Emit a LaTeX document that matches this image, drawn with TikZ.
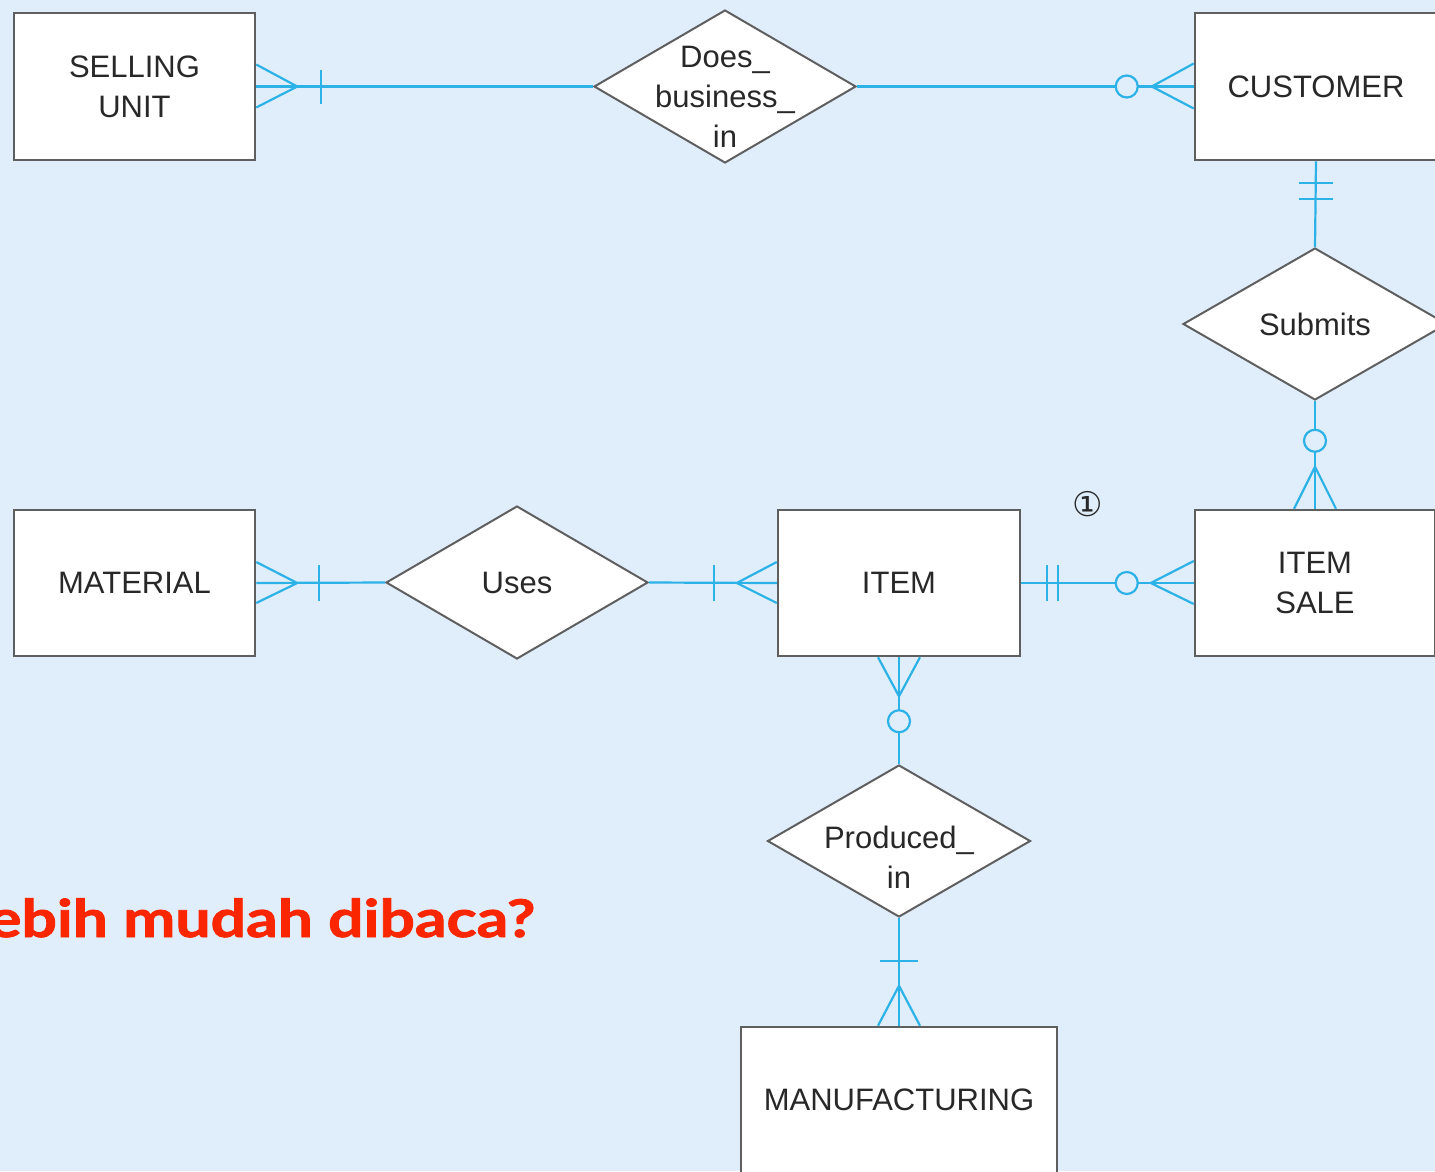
\documentclass[tikz,border=0pt]{standalone}
\usepackage{fontspec}
\setmainfont{Liberation Sans}
\newfontfamily\symfont{DejaVu Sans}
\newfontfamily\redfont{Lato}[BoldFeatures={FakeBold=1.5}]
\usetikzlibrary{shapes.geometric,calc}
\definecolor{bg}{RGB}{224,238,252}
\definecolor{relc}{RGB}{45,178,232}
\definecolor{bord}{RGB}{95,95,95}
\definecolor{txt}{RGB}{40,40,40}
\definecolor{redtxt}{RGB}{250,38,0}
\begin{document}
\begin{tikzpicture}[x=1pt,y=-1pt,
 entity/.style={draw=bord, line width=2.5pt, fill=white, rectangle, inner sep=0pt, align=center, text=txt, font=\fontsize{31}{40}\selectfont},
 relship/.style={draw=bord, line width=2pt, fill=white, diamond, inner sep=0pt},
 rtext/.style={align=center, text=txt, inner sep=0pt, font=\fontsize{31}{40}\selectfont},
 rel/.style={draw=relc, line width=2.2pt},
 optc/.style={draw=relc, line width=2.2pt, fill=bg},
]
\fill[bg] (0,0) rectangle (1435,1171);
\useasboundingbox (0,0) rectangle (1435,1171);

% entities
\node[entity, minimum width=241, minimum height=147] (su) at (134.5,86.5) {SELLING\\UNIT};
\node[entity, minimum width=242, minimum height=147] (cu) at (1316,86.5) {CUSTOMER};
\node[entity, minimum width=241, minimum height=146] (mat) at (134.5,583) {MATERIAL};
\node[entity, minimum width=242, minimum height=146] (item) at (899,583) {ITEM};
\node[entity, minimum width=240, minimum height=146] (is) at (1315,583) {ITEM\\SALE};
\node[entity, minimum width=316, minimum height=146] (mf) at (899,1100) {MANUFACTURING};

% relationships
\node[relship, minimum width=262, minimum height=153] (dbi) at (725,86.5) {};
\node[rtext] (dbit) at (725,97) {Does\_\\business\_\\in};
\node[relship, minimum width=264, minimum height=152] (sub) at (1315,324) {};
\node[rtext] (subt) at (1315,324) {Submits};
\node[relship, minimum width=262, minimum height=153] (uses) at (517,582.5) {};
\node[rtext] (usest) at (517,583) {Uses};
\node[relship, minimum width=263, minimum height=152] (pin) at (899,841) {};
\node[rtext] (pint) at (899,857) {Produced\_\\in};

% SELLING UNIT -- Does_business_in -- CUSTOMER
\draw[rel] (su.east) -- (dbi.west);
\draw[rel] ($(su.east)+(0,-22)$) -- ($(su.east)+(41,0)$) -- ($(su.east)+(0,21)$);
\draw[rel] ($(su.east)+(65,-17)$) -- ($(su.east)+(65,17)$);
\draw[rel] (dbi.east) -- (cu.west);
\draw[rel] ($(cu.west)+(0,-23)$) -- ($(cu.west)+(-42,0)$) -- ($(cu.west)+(0,22)$);
\draw[optc] ($(cu.west)+(-67,0)$) circle (11);

% CUSTOMER -- Submits -- ITEM SALE
\draw[rel] (cu.south) -- (sub.north);
\draw[rel] ($(cu.south)+(-17,22)$) -- ($(cu.south)+(17,22)$);
\draw[rel] ($(cu.south)+(-17,38)$) -- ($(cu.south)+(17,38)$);
\draw[rel] (sub.south) -- (is.north);
\draw[rel] ($(is.north)+(-21,0)$) -- ($(is.north)+(0,-42)$) -- ($(is.north)+(21,0)$);
\draw[optc] ($(is.north)+(0,-68)$) circle (11);

% MATERIAL -- Uses -- ITEM
\draw[rel] (mat.east) -- (uses.west);
\draw[rel] ($(mat.east)+(0,-21)$) -- ($(mat.east)+(41,0)$) -- ($(mat.east)+(0,20)$);
\draw[rel] ($(mat.east)+(63,-18)$) -- ($(mat.east)+(63,18)$);
\draw[rel] (uses.east) -- (item.west);
\draw[rel] ($(item.west)+(-63,-18)$) -- ($(item.west)+(-63,18)$);
\draw[rel] ($(item.west)+(0,-21)$) -- ($(item.west)+(-40,0)$) -- ($(item.west)+(0,20)$);

% ITEM -- ITEM SALE
\draw[rel] (item.east) -- (is.west);
\draw[rel] ($(item.east)+(26,-18)$) -- ($(item.east)+(26,18)$);
\draw[rel] ($(item.east)+(37,-18)$) -- ($(item.east)+(37,18)$);
\draw[rel] ($(is.west)+(0,-22)$) -- ($(is.west)+(-43,0)$) -- ($(is.west)+(0,21)$);
\draw[optc] ($(is.west)+(-67,0)$) circle (11);
\node[text=txt, inner sep=0pt, font=\symfont\fontsize{34}{36}\selectfont] (one) at (1088,504) {①};

% ITEM -- Produced_in -- MANUFACTURING
\draw[rel] (item.south) -- (pin.north);
\draw[rel] ($(item.south)+(-21,0)$) -- ($(item.south)+(0,39)$) -- ($(item.south)+(21,0)$);
\draw[optc] ($(item.south)+(0,64)$) circle (11);
\draw[rel] (pin.south) -- (mf.north);
\draw[rel] ($(mf.north)+(-19,-65)$) -- ($(mf.north)+(19,-65)$);
\draw[rel] ($(mf.north)+(-21,0)$) -- ($(mf.north)+(0,-40)$) -- ($(mf.north)+(21,0)$);

% question
\node[anchor=base west, inner sep=0pt, text=redtxt, font=\redfont\bfseries\fontsize{52}{60}\selectfont] (q) at (-12,937) {\scalebox{1.2}[1]{ebih mudah dibaca?}};
\end{tikzpicture}
\end{document}
